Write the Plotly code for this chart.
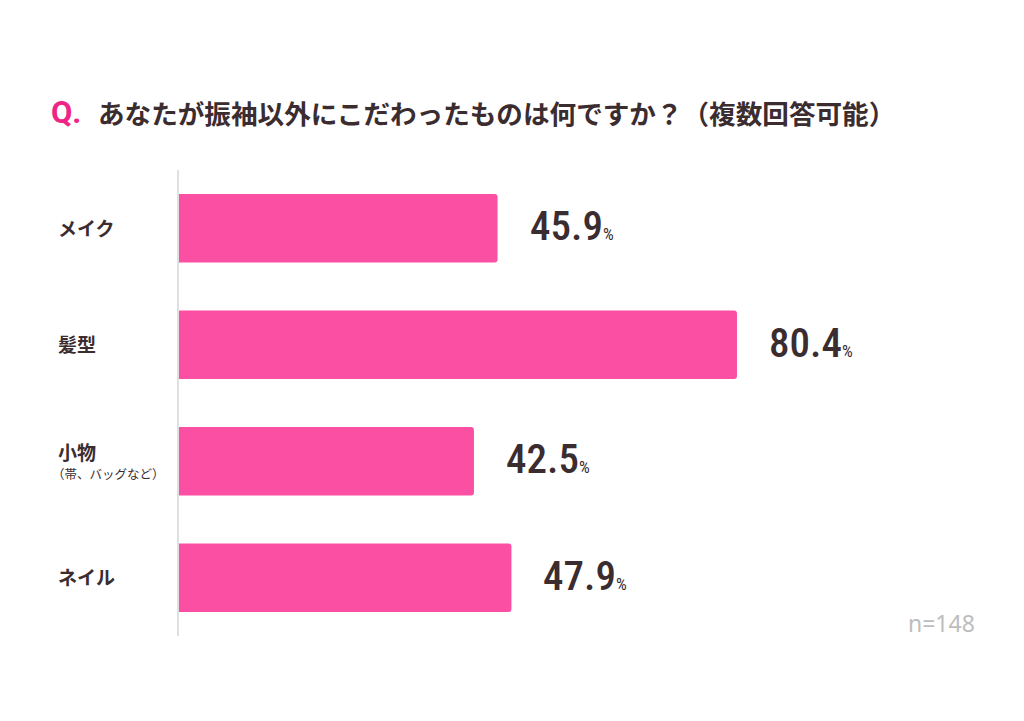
import plotly.graph_objects as go

categories = ["メイク", "髪型", "小物", "ネイル"]
sublabels = ["", "", "（帯、バッグなど）", ""]
values = [45.9, 80.4, 42.5, 47.9]
n_label = "n=148"
title_q = "Q."
title_text = "あなたが振袖以外にこだわったものは何ですか？（複数回答可能）"

PINK = "#fb4fa3"
DARK = "#3b2c30"
CJK = "Noto Sans CJK JP"
NUM = "Roboto Condensed, DejaVu Sans Condensed, Roboto, sans-serif"

fig = go.Figure(go.Bar(
    x=values, y=categories, orientation="h",
    marker=dict(color=PINK, line=dict(width=0)),
    width=0.59, hoverinfo="skip",
))

ann = []
for c, v, s in zip(categories, values, sublabels):
    ann.append(dict(
        x=v, y=c, xref="x", yref="y", xanchor="left", yanchor="middle",
        xshift=30, yshift=2, showarrow=False,
        text=(f"<span style='font-size:41px'>{v:.1f}</span>"
              f"<span style='font-size:17px;font-weight:400'>%</span>"),
        font=dict(family=NUM, size=41, color=DARK, weight=500),
    ))
    ann.append(dict(
        x=0, y=c, xref="paper", yref="y", xanchor="left", yanchor="middle",
        xshift=-123, yshift=(10 if s else 1), showarrow=False,
        text=f"<b>{c}</b>", font=dict(family=CJK, size=19, color=DARK),
    ))
    if s:
        ann.append(dict(
            x=0, y=c, xref="paper", yref="y", xanchor="left", yanchor="middle",
            xshift=-129, yshift=-12, showarrow=False,
            text=s, font=dict(family=CJK, size=12.5, color=DARK),
        ))

fig.update_layout(
    width=1024, height=721,
    margin=dict(l=171, r=159, t=162, b=93),
    paper_bgcolor="white", plot_bgcolor="white",
    barcornerradius=3,
    showlegend=False,
    xaxis=dict(range=[0, 100], visible=False, fixedrange=True),
    yaxis=dict(autorange="reversed", showticklabels=False, showgrid=False,
               zeroline=False, showline=True, linecolor="#e0e0e0", linewidth=2,
               ticks="", fixedrange=True),
    annotations=ann + [
        dict(x=0, y=1, xref="paper", yref="paper", xanchor="left", yanchor="middle",
             xshift=-130, yshift=58, showarrow=False,
             text=f"<b>{title_q}</b>", font=dict(family="Roboto, sans-serif", size=31, color="#ee2585")),
        dict(x=0, y=1, xref="paper", yref="paper", xanchor="left", yanchor="middle",
             xshift=-83, yshift=58, showarrow=False,
             text=f"<b>{title_text}</b>", font=dict(family=CJK, size=26.6, color=DARK)),
        dict(x=1, y=0, xref="paper", yref="paper", xanchor="right", yanchor="middle",
             xshift=104, yshift=13, showarrow=False,
             text=n_label, font=dict(family="Noto Sans, sans-serif", size=23, color="#bdbdbd")),
    ],
)

fig.write_html("out.html")
